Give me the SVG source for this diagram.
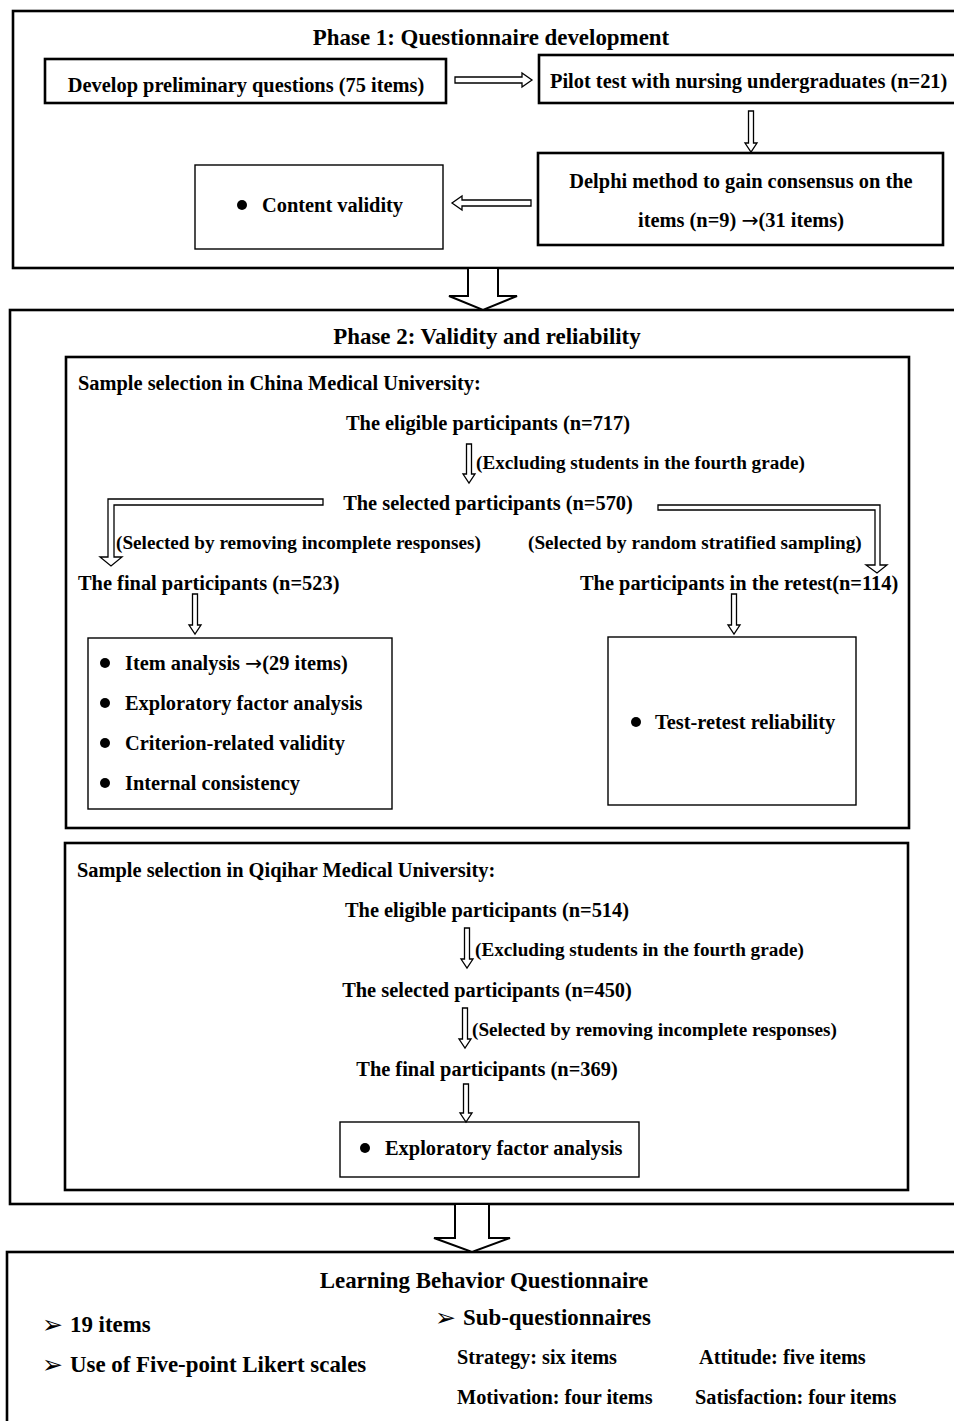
<svg xmlns="http://www.w3.org/2000/svg" width="954" height="1421" viewBox="0 0 954 1421">
<style>
text{font-family:"Liberation Serif","Times New Roman",serif;font-weight:bold;fill:#000}
.t20{font-size:22.9px}
.t18{font-size:20.4px}
.t17{font-size:20.3px}
.t16{font-size:19.2px}
.c{text-anchor:middle}
.ar{font-family:"DejaVu Sans",sans-serif;font-weight:normal}
.thick{fill:#fff;stroke:#000;stroke-width:2.6}
.thin{fill:#fff;stroke:#000;stroke-width:1.4}
.arr{fill:#fff;stroke:#000;stroke-width:1.3;stroke-linejoin:miter}
.big{fill:#fff;stroke:#000;stroke-width:2}
.bul{fill:#000}
.tri{font-family:"DejaVu Sans",sans-serif;font-weight:normal;font-size:25px}
</style>
<rect width="954" height="1421" fill="#fff"/>

<g id="phase1">
<rect class="thick" x="13" y="11" width="960" height="257"/>
<text class="t20 c" x="491" y="45">Phase 1: Questionnaire development</text>
</g>
<g id="develop">
<rect class="thick" x="45" y="59" width="401" height="44"/>
<text class="t18 c" x="246" y="92">Develop preliminary questions (75 items)</text>
</g>
<g id="pilot">
<rect class="thick" x="539" y="55" width="430" height="48"/>
<text class="t18" x="550" y="88">Pilot test with nursing undergraduates (n=21)</text>
</g>
<g id="delphi">
<rect class="thick" x="538" y="153" width="405" height="92"/>
<text class="t18 c" x="741" y="188">Delphi method to gain consensus on the</text>
<text class="t18 c" x="741" y="227">items (n=9) <tspan class="ar">→</tspan>(31 items)</text>
</g>
<g id="content">
<rect class="thin" x="195" y="165" width="248" height="84"/>
<circle class="bul" cx="242" cy="205" r="5"/>
<text class="t18" x="262" y="212">Content validity</text>
</g>

<g id="phase2">
<rect class="thick" x="10" y="310" width="960" height="894"/>
<text class="t20 c" x="487" y="344">Phase 2: Validity and reliability</text>
</g>
<g id="china">
<rect class="thick" x="66" y="357" width="843" height="471"/>
<text class="t18" x="78" y="390">Sample selection in China Medical University:</text>
<text class="t18 c" x="488" y="430">The eligible participants (n=717)</text>
<text class="t16" x="476" y="469">(Excluding students in the fourth grade)</text>
<text class="t18 c" x="488" y="510">The selected participants (n=570)</text>
<text class="t16" x="116" y="549">(Selected by removing incomplete responses)</text>
<text class="t16" x="528" y="549">(Selected by random stratified sampling)</text>
<text class="t18" x="78" y="590">The final participants (n=523)</text>
<text class="t18" x="580" y="590">The participants in the retest(n=114)</text>
</g>
<g id="china-analysis">
<rect class="thin" x="88" y="638" width="304" height="171"/>
<circle class="bul" cx="105" cy="663" r="5"/>
<text class="t18" x="125" y="670">Item analysis <tspan class="ar">→</tspan>(29 items)</text>
<circle class="bul" cx="105" cy="703" r="5"/>
<text class="t18" x="125" y="710">Exploratory factor analysis</text>
<circle class="bul" cx="105" cy="743" r="5"/>
<text class="t18" x="125" y="750">Criterion-related validity</text>
<circle class="bul" cx="105" cy="783" r="5"/>
<text class="t18" x="125" y="790">Internal consistency</text>
</g>
<g id="retest">
<rect class="thin" x="608" y="637" width="248" height="168"/>
<circle class="bul" cx="636" cy="722" r="5"/>
<text class="t18" x="655" y="729">Test-retest reliability</text>
</g>

<g id="qiqihar">
<rect class="thick" x="65" y="843" width="843" height="347"/>
<text class="t18" x="77" y="877">Sample selection in Qiqihar Medical University:</text>
<text class="t18 c" x="487" y="917">The eligible participants (n=514)</text>
<text class="t16" x="475" y="956">(Excluding students in the fourth grade)</text>
<text class="t18 c" x="487" y="997">The selected participants (n=450)</text>
<text class="t16" x="472" y="1036">(Selected by removing incomplete responses)</text>
<text class="t18 c" x="487" y="1076">The final participants (n=369)</text>
</g>
<g id="qiqihar-efa">
<rect class="thin" x="340" y="1122" width="299" height="55"/>
<circle class="bul" cx="365" cy="1148" r="5"/>
<text class="t18" x="385" y="1155">Exploratory factor analysis</text>
</g>

<g id="result">
<rect class="thick" x="7" y="1252" width="960" height="190"/>
<text class="t20 c" x="484" y="1288">Learning Behavior Questionnaire</text>
<text class="tri" x="42" y="1333">➢</text>
<text class="t20" x="70" y="1332">19 items</text>
<text class="tri" x="42" y="1373">➢</text>
<text class="t20" x="70" y="1372">Use of Five-point Likert scales</text>
<text class="tri" x="435" y="1326">➢</text>
<text class="t20" x="463" y="1325">Sub-questionnaires</text>
<text class="t17" x="457" y="1364">Strategy: six items</text>
<text class="t17" x="699" y="1364">Attitude: five items</text>
<text class="t17" x="457" y="1404">Motivation: four items</text>
<text class="t17" x="695" y="1404">Satisfaction: four items</text>
</g>

<g id="connectors">
<path class="arr" d="M455,77 H522 V73 L532,80 L522,87 V83 H455 Z"/>
<path class="arr" d="M748.5,111 V143 H745 L751,152 L757,143 H753.5 V111 Z"/>
<path class="arr" d="M531,200 H462 V196 L452,203 L462,210 V206 H531 Z"/>
<path class="big" d="M468,269 V296 H449 L483,310 L517,296 H498 V269"/>
<path class="arr" d="M466.5,444 V474 H463 L469,483 L475,474 H471.5 V444 Z"/>
<path class="arr" d="M323,499 H108 V557 H100 L111,566 L122,557 H114 V505 H323 Z"/>
<path class="arr" d="M658,505 H880 V565 H887 L877,573 L866,565 H875 V510 H658 Z"/>
<path class="arr" d="M192.5,594 V625 H189 L195,634 L201,625 H197.5 V594 Z"/>
<path class="arr" d="M731.5,594 V625 H728 L734,634 L740,625 H736.5 V594 Z"/>
<path class="arr" d="M464.5,928 V959 H461 L467,968 L473,959 H469.5 V928 Z"/>
<path class="arr" d="M462.5,1008 V1039 H459 L465,1048 L471,1039 H467.5 V1008 Z"/>
<path class="arr" d="M463.5,1084 V1113 H460 L466,1122 L472,1113 H468.5 V1084 Z"/>
<path class="big" d="M455,1205 V1238 H434 L472,1252 L510,1238 H489 V1205"/>
</g>
</svg>
